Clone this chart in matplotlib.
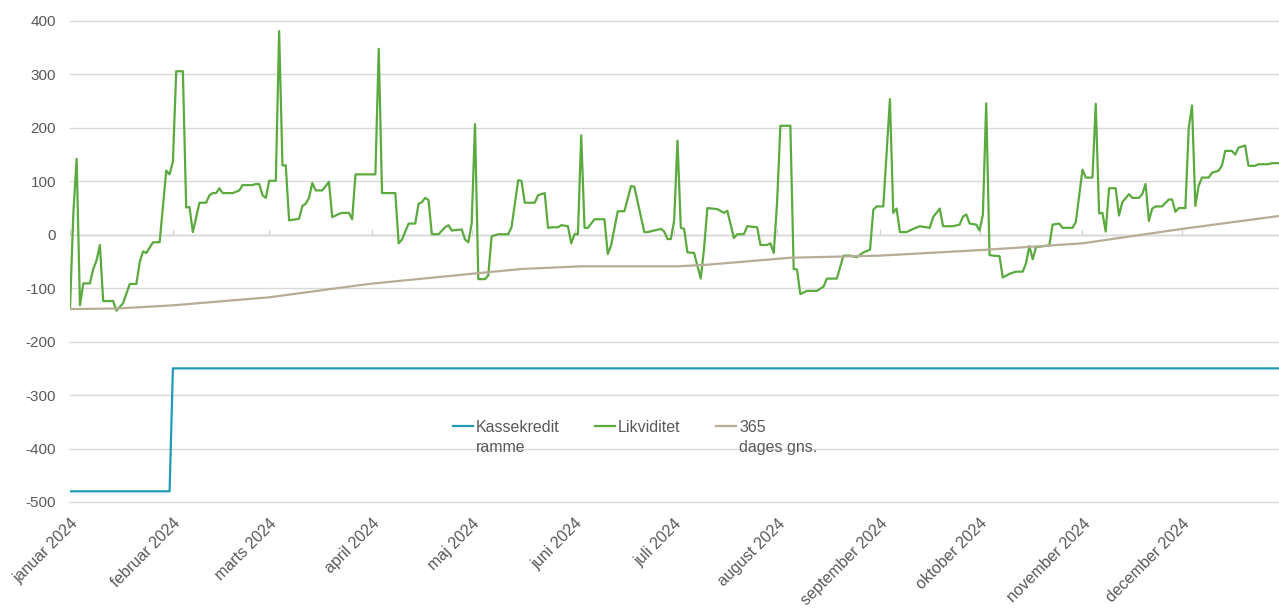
import numpy as np
import pandas as pd
import matplotlib
matplotlib.use("Agg")
import matplotlib.pyplot as plt

plt.rcParams['font.family'] = ['Liberation Sans', 'DejaVu Sans']
plt.rcParams['axes.unicode_minus'] = False

# Likviditet, dag i aaret (0 = 1. januar) og vaerdi
liq_days = [0, 1, 2, 3, 4, 6, 7, 8, 9, 10, 13, 14, 16, 18, 20, 21, 22, 23, 25, 27,
            29, 30, 31, 32, 34, 35, 36, 37, 39, 41, 42, 43, 44, 45, 46, 49, 51, 52, 55, 56,
            57, 58, 59, 60, 62, 63, 64, 65, 66, 69, 70, 71, 72, 73, 74, 76, 78, 79, 81, 82,
            84, 85, 86, 92, 93, 94, 98, 99, 100, 102, 104, 105, 106, 107, 108, 109, 111, 113, 114, 115,
            118, 119, 120, 121, 122, 123, 125, 126, 127, 129, 132, 133, 135, 136, 137, 140, 141, 143, 144, 145,
            147, 148, 150, 151, 152, 153, 154, 155, 156, 158, 161, 162, 163, 165, 167, 169, 170, 173, 174, 178,
            179, 180, 181, 182, 183, 184, 185, 186, 188, 190, 191, 192, 195, 197, 198, 200, 201, 203, 204, 207,
            208, 210, 211, 212, 213, 214, 217, 218, 219, 220, 222, 225, 227, 228, 231, 233, 235, 237, 239, 241,
            242, 243, 245, 247, 248, 249, 250, 252, 254, 256, 259, 260, 262, 263, 266, 268, 269, 270, 271, 273,
            274, 275, 276, 277, 278, 280, 281, 283, 285, 287, 288, 289, 290, 291, 295, 296, 298, 299, 302, 303,
            305, 306, 308, 309, 310, 311, 312, 313, 315, 316, 317, 319, 320, 322, 323, 324, 325, 326, 327, 329,
            331, 332, 333, 334, 336, 337, 338, 339, 340, 341, 343, 344, 346, 347, 348, 350, 351, 352, 354, 355,
            357, 358, 361, 362, 364]
liq_vals = [-139, 40, 142, -132, -91, -91, -64, -48, -19, -124, -124, -142, -128, -92, -92, -51, -31, -34, -14, -14,
            120, 113, 137, 306, 306, 51, 52, 5, 60, 60, 74, 78, 78, 87, 78, 78, 83, 93, 93, 95,
            95, 74, 69, 101, 101, 381, 130, 130, 27, 30, 54, 58, 69, 97, 83, 83, 99, 33, 39, 41,
            41, 29, 113, 113, 348, 78, 78, -16, -9, 21, 21, 58, 61, 69, 65, 1, 1, 14, 18, 8,
            10, -9, -14, 21, 207, -83, -83, -76, -3, 1, 1, 14, 102, 101, 60, 60, 74, 78, 13, 14,
            14, 18, 16, -16, 1, 1, 186, 13, 13, 29, 29, -36, -20, 44, 44, 91, 90, 5, 5, 11,
            6, -8, -8, 27, 176, 13, 11, -33, -34, -82, -26, 50, 48, 41, 45, -6, 1, 1, 16, 14,
            -19, -19, -16, -34, 60, 204, 204, -64, -65, -111, -105, -105, -97, -82, -82, -39, -39, -42, -33, -28,
            47, 53, 53, 254, 41, 49, 5, 5, 11, 16, 13, 33, 49, 16, 16, 19, 34, 38, 21, 19,
            8, 38, 246, -38, -39, -40, -80, -73, -69, -69, -53, -21, -46, -23, -20, 19, 21, 13, 13, 24,
            122, 107, 107, 245, 40, 41, 6, 87, 87, 36, 61, 76, 69, 69, 76, 95, 26, 49, 53, 53,
            66, 66, 43, 50, 50, 199, 242, 54, 92, 107, 107, 116, 120, 129, 157, 157, 150, 163, 167, 129,
            129, 132, 132, 134, 134]

# 365 dages gennemsnit
avg_days = [0, 14, 31, 60, 90, 121, 136, 154, 183, 192, 217, 244, 276, 305, 335, 364]
avg_vals = [-139, -138, -132, -117, -92, -73, -64, -59, -59, -56, -43, -39, -28, -16, 11, 35]

# Kassekredit ramme
kk_days = [0, 30, 31, 364]
kk_vals = [-480, -480, -250, -250]

month_labels = ["januar 2024", "februar 2024", "marts 2024", "april 2024", "maj 2024",
                "juni 2024", "juli 2024", "august 2024", "september 2024", "oktober 2024",
                "november 2024", "december 2024"]

start = pd.Timestamp("2024-01-01")
def to_dates(days):
    return start + pd.to_timedelta(days, unit="D")

W, H = 1279, 614
fig = plt.figure(figsize=(W / 100, H / 100), dpi=100)
ax = fig.add_axes([70 / W, 112 / H, 1209 / W, 481 / H])

ax.plot(to_dates(kk_days), kk_vals, color="#1f9bb6", lw=1.6, label="Kassekredit\nramme")
ax.plot(to_dates(liq_days), liq_vals, color="#5aaa3e", lw=1.6, label="Likviditet")
ax.plot(to_dates(avg_days), avg_vals, color="#b7ad97", lw=1.6, label="365\ndages gns.")

ax.set_ylim(-500, 400)
ax.set_xlim(to_dates([0])[0], to_dates([364.2])[0])
ax.set_yticks(np.arange(-500, 401, 100))
ax.grid(axis="y", color="#d9d9d9", lw=1)
ax.set_axisbelow(True)
for gl in ax.get_ygridlines():
    gl.set_clip_on(False)
for s in ax.spines.values():
    s.set_visible(False)

months = pd.date_range("2024-01-01", periods=12, freq="MS")
ax.set_xticks(months)
ax.set_xticklabels(month_labels, rotation=45, ha="right", va="top", rotation_mode="anchor")
ax.tick_params(axis="x", length=0, pad=10, labelsize=11.5, labelcolor="#595959")
ax.tick_params(axis="y", length=0, pad=10, labelsize=11, labelcolor="#595959")

# x-akse ved nul med smaa streger
zero_ax = ax.secondary_xaxis(500 / 900)
zero_ax.set_xticks(months)
zero_ax.set_xticklabels([])
zero_ax.tick_params(axis="x", length=4, color="#d0d0d0", direction="out")
zero_ax.spines["bottom"].set_color("#d9d9d9")

leg = ax.legend(loc="upper left", bbox_to_anchor=(453 / W, 1 - 420 / H),
                bbox_transform=fig.transFigure, ncol=3, frameon=False,
                fontsize=11.5, handlelength=1.25, handletextpad=0.2,
                columnspacing=2.2, borderpad=0, borderaxespad=0)
# top-justering saa streg og tekst flugter med foerste linje
leg._legend_handle_box.align = "top"
for col in leg._legend_handle_box.get_children():
    col.align = "top"
    for row in col.get_children():
        row.align = "top"
for t in leg.get_texts():
    t.set_color("#595959")
    t.set_linespacing(1.4)

fig.savefig("out.png", dpi=100)
